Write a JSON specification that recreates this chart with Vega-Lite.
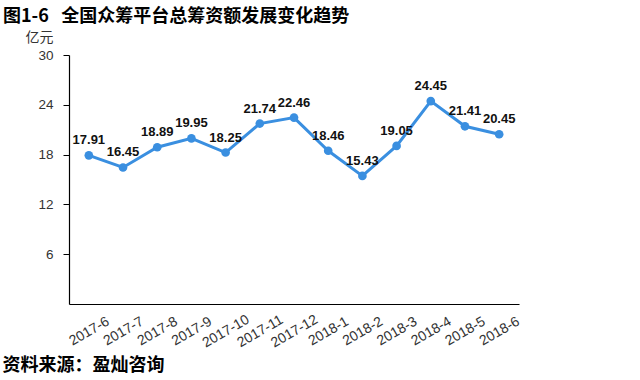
{
  "$schema": "https://vega.github.io/schema/vega-lite/v6.json",
  "autosize": "none",
  "width": 450,
  "height": 249,
  "padding": {"left": 69, "top": 55, "right": 121, "bottom": 76},
  "background": "white",
  "config": {"view": {"stroke": null}},
  "title": {
    "text": "图1-6\u00a0\u00a0\u00a0全国众筹平台总筹资额发展变化趋势",
    "anchor": "start",
    "frame": "group",
    "dx": -66,
    "font": "Noto Sans CJK SC",
    "fontSize": 18,
    "fontWeight": "bold",
    "color": "#000000",
    "offset": 4
  },
  "data": {
    "values": [
      {"month": "2017-6", "value": 17.91},
      {"month": "2017-7", "value": 16.45},
      {"month": "2017-8", "value": 18.89},
      {"month": "2017-9", "value": 19.95},
      {"month": "2017-10", "value": 18.25},
      {"month": "2017-11", "value": 21.74},
      {"month": "2017-12", "value": 22.46},
      {"month": "2018-1", "value": 18.46},
      {"month": "2018-2", "value": 15.43},
      {"month": "2018-3", "value": 19.05},
      {"month": "2018-4", "value": 24.45},
      {"month": "2018-5", "value": 21.41},
      {"month": "2018-6", "value": 20.45}
    ]
  },
  "encoding": {
    "x": {
      "field": "month",
      "type": "ordinal",
      "sort": null,
      "scale": {"type": "point", "padding": 0.58},
      "axis": {
        "title": "资料来源：盈灿咨询",
        "titleX": -67,
        "titleY": 52,
        "titleAlign": "left",
        "titleBaseline": "top",
        "titleFont": "Noto Sans CJK SC",
        "titleFontSize": 18,
        "titleFontWeight": "bold",
        "titleColor": "#000000",
        "labelAngle": -30,
        "labelAlign": "center",
        "labelBaseline": "middle",
        "labelFont": "Liberation Sans",
        "labelFontSize": 14,
        "labelColor": "#333333",
        "labelPadding": 27,
        "labelOverlap": false,
        "ticks": false,
        "domainColor": "#000000",
        "domainWidth": 1.2,
        "grid": false
      }
    },
    "y": {
      "field": "value",
      "type": "quantitative",
      "scale": {"domain": [0, 30]},
      "axis": {
        "values": [6, 12, 18, 24, 30],
        "title": "亿元",
        "titleAngle": 0,
        "titleX": -16,
        "titleY": -11,
        "titleAlign": "right",
        "titleBaseline": "bottom",
        "titleFont": "Noto Sans CJK SC",
        "titleFontSize": 14,
        "titleFontWeight": "normal",
        "titleColor": "#333333",
        "labelFont": "Liberation Sans",
        "labelFontSize": 13.5,
        "labelColor": "#333333",
        "labelPadding": 10,
        "tickSize": 6,
        "tickColor": "#000000",
        "domainColor": "#000000",
        "domainWidth": 1.2,
        "grid": false
      }
    }
  },
  "layer": [
    {
      "mark": {"type": "line", "color": "#3a8fe0", "strokeWidth": 3}
    },
    {
      "mark": {"type": "circle", "color": "#3a8fe0", "size": 75, "opacity": 1}
    },
    {
      "mark": {
        "type": "text",
        "dy": -15,
        "font": "Liberation Sans",
        "fontSize": 13,
        "fontWeight": "bold",
        "color": "#111111"
      },
      "encoding": {"text": {"field": "value", "type": "quantitative", "format": ".2f"}}
    }
  ]
}
